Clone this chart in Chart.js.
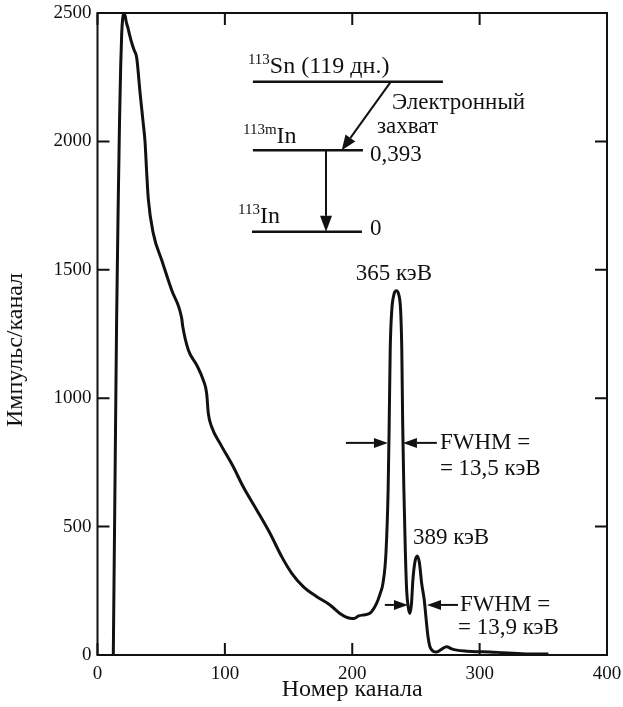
<!DOCTYPE html>
<html lang="ru">
<head>
  <meta charset="UTF-8">
  <title>Спектр 113Sn</title>
  <script src="https://cdn.jsdelivr.net/npm/chart.js"></script>
  <style>
    body {
      margin: 0;
      background: #fff;
    }
  </style>
</head>
<body>
  <canvas id="spectrum" width="623" height="707"></canvas>

  <script>
    // Gamma spectrum (channel number, counts per channel)
    const channels = [
      12.4, 13.8, 15.0, 16.3, 17.3, 18.2, 19.0, 19.8, 20.6, 21.6, 22.6, 24.0, 25.2, 26.8,
      28.8, 30.8, 33.4, 35.9, 37.3, 38.6, 39.9, 43.8, 50.4, 58.2, 66.1, 66.9, 71.3, 77.9,
      83.0, 85.7, 87.0, 89.6, 96.2, 106.6, 114.4, 125.0, 135.4, 144.6, 152.4, 161.5, 172.1,
      182.5, 190.3, 198.2, 201.5, 205, 210, 214, 219, 222, 224.1, 226.5, 228.2, 229, 229.8,
      231, 232.8, 234.6, 236.4, 238, 238.9, 239.6, 240.5, 241.7, 242.7, 244, 245.3, 246.5,
      247.6, 249.3, 251, 252.7, 254.5, 256.5, 258, 259.5, 261, 263.5, 266.2, 270, 274.1,
      278, 282, 290, 297.6, 308, 318.3, 330, 339.5, 354
    ];
    const counts = [
      0, 700, 1300, 1772, 2080, 2291, 2420, 2480, 2497, 2490, 2465, 2440, 2415, 2385,
      2355, 2325, 2190, 2070, 2000, 1880, 1775, 1642, 1538, 1421, 1311, 1280, 1188, 1129,
      1071, 1019, 941, 889, 824, 733, 655, 565, 474, 383, 319, 266, 227,
      195, 162, 143, 142, 152, 157, 163, 200, 240, 279, 400, 650, 900, 1188,
      1340, 1405, 1418, 1405, 1340, 1188, 900, 650, 400, 253, 185, 162, 200,
      292, 365, 386, 360, 279, 215, 140, 70, 32, 15, 12, 22, 32,
      24, 19, 15, 13, 12, 9, 6, 4, 4
    ];
    const xTicks = [0, 100, 200, 300, 400];
    const yTicks = [0, 500, 1000, 1500, 2000, 2500];

    const INK = "#111";
    const SERIF = '"Liberation Serif", "Times New Roman", serif';

    Chart.defaults.font.family = SERIF;
    Chart.defaults.color = INK;

    // Filled-head arrow from (x1,y1) to (x2,y2)
    function arrow(ctx, x1, y1, x2, y2, head, half) {
      const a = Math.atan2(y2 - y1, x2 - x1);
      const bx = x2 - head * Math.cos(a);
      const by = y2 - head * Math.sin(a);
      ctx.beginPath();
      ctx.moveTo(x1, y1);
      ctx.lineTo(bx, by);
      ctx.stroke();
      ctx.beginPath();
      ctx.moveTo(x2, y2);
      ctx.lineTo(bx + half * Math.sin(a), by - half * Math.cos(a));
      ctx.lineTo(bx - half * Math.sin(a), by + half * Math.cos(a));
      ctx.closePath();
      ctx.fill();
    }

    // Text with a superscript prefix, e.g. 113Sn
    function supText(ctx, sup, main, x, y, size) {
      ctx.textAlign = "left";
      ctx.textBaseline = "alphabetic";
      ctx.font = Math.round(size * 0.62) + "px " + SERIF;
      ctx.fillText(sup, x, y - size * 0.36);
      const w = ctx.measureText(sup).width;
      ctx.font = size + "px " + SERIF;
      ctx.fillText(main, x + w, y);
    }

    function label(ctx, str, x, y, size, align) {
      ctx.font = size + "px " + SERIF;
      ctx.textAlign = align || "left";
      ctx.textBaseline = "middle";
      ctx.fillText(str, x, y);
    }

    const decorations = {
      id: "decorations",
      afterDraw(chart) {
        const { ctx, chartArea: area, scales: { x, y } } = chart;
        const px = v => x.getPixelForValue(v);
        const py = v => y.getPixelForValue(v);

        ctx.save();
        ctx.strokeStyle = INK;
        ctx.fillStyle = INK;

        // frame with ticks pointing inwards on all four sides
        ctx.lineWidth = 2;
        ctx.strokeRect(area.left, area.top, area.width, area.height);
        ctx.beginPath();
        xTicks.forEach(v => {
          ctx.moveTo(px(v), area.bottom);
          ctx.lineTo(px(v), area.bottom - 12);
          ctx.moveTo(px(v), area.top);
          ctx.lineTo(px(v), area.top + 12);
        });
        yTicks.forEach(v => {
          ctx.moveTo(area.left, py(v));
          ctx.lineTo(area.left + 12, py(v));
          ctx.moveTo(area.right, py(v));
          ctx.lineTo(area.right - 12, py(v));
        });
        ctx.stroke();

        // axis titles
        label(ctx, "Номер канала", (area.left + area.right) / 2, 690, 24, "center");
        ctx.save();
        ctx.translate(16, 350);
        ctx.rotate(-Math.PI / 2);
        label(ctx, "Импульс/канал", 0, 0, 24, "center");
        ctx.restore();

        // decay scheme: 113Sn -> 113mIn -> 113In
        ctx.lineWidth = 2.5;
        ctx.beginPath();
        ctx.moveTo(px(122), py(2232));
        ctx.lineTo(px(271.2), py(2232));
        ctx.moveTo(px(122), py(1966));
        ctx.lineTo(px(208.4), py(1966));
        ctx.moveTo(px(121.3), py(1648));
        ctx.lineTo(px(207.6), py(1648));
        ctx.stroke();

        ctx.lineWidth = 2;
        arrow(ctx, px(230.2), py(2232), px(191.7), py(1966), 15, 6);
        arrow(ctx, px(179.4), py(1966), px(179.4), py(1648), 16, 6);

        supText(ctx, "113", "Sn (119 дн.)", px(118.1), py(2266), 24);
        supText(ctx, "113m", "In", px(114.2), py(1994), 24);
        supText(ctx, "113", "In", px(110.3), py(1682), 24);
        label(ctx, "0,393", px(213.9), py(1947), 23);
        label(ctx, "0", px(213.9), py(1659), 23);
        label(ctx, "Электронный", px(231.2), py(2150), 23);
        label(ctx, "захват", px(219.4), py(2056), 23);

        // peak labels and FWHM markers
        label(ctx, "365 кэВ", px(232.7), py(1484), 23, "center");
        arrow(ctx, px(195), py(826), px(228), py(826), 14, 5);
        arrow(ctx, px(266.4), py(826), px(239.8), py(826), 14, 5);
        label(ctx, "FWHM =", px(268.8), py(826), 23);
        label(ctx, "= 13,5 кэВ", px(268.8), py(724), 23);

        label(ctx, "389 кэВ", px(247.6), py(456), 23);
        arrow(ctx, px(225.6), py(195), px(243.7), py(195), 14, 5);
        arrow(ctx, px(283), py(195), px(258.7), py(195), 14, 5);
        label(ctx, "FWHM =", px(284.5), py(195), 23);
        label(ctx, "= 13,9 кэВ", px(283), py(105), 23);

        ctx.restore();
      }
    };

    const spectrumData = channels.map((c, i) => ({ x: c, y: counts[i] }));

    const spectrumChart = new Chart(document.getElementById("spectrum"), {
      type: "line",
      data: {
        datasets: [{
          data: spectrumData,
          borderColor: INK,
          borderWidth: 3,
          pointRadius: 0,
          fill: false,
          cubicInterpolationMode: "monotone",
        }]
      },
      options: {
        responsive: false,
        animation: false,
        layout: {
          padding: { top: 13, right: 16, left: 0, bottom: 0 }
        },
        plugins: {
          legend: { display: false },
          tooltip: { enabled: false },
        },
        scales: {
          x: {
            type: "linear",
            min: 0,
            max: 400,
            grid: { display: false, drawTicks: false },
            border: { display: false },
            afterBuildTicks: s => { s.ticks = xTicks.map(v => ({ value: v })); },
            afterFit: s => {
              s.height = 52;
              s.paddingRight = 0;
              s.paddingLeft = 0;
            },
            ticks: {
              padding: 8,
              font: { size: 19 },
              color: INK,
              callback: v => String(v),
            },
          },
          y: {
            type: "linear",
            min: 0,
            max: 2500,
            grid: { display: false, drawTicks: false },
            border: { display: false },
            afterBuildTicks: s => { s.ticks = yTicks.map(v => ({ value: v })); },
            afterFit: s => {
              s.width = 97.5;
              s.paddingTop = 0;
              s.paddingBottom = 0;
            },
            ticks: {
              padding: 6,
              font: { size: 19 },
              color: INK,
              callback: v => String(v),
            },
          },
        },
      },
      plugins: [decorations],
    });
  </script>
</body>
</html>
